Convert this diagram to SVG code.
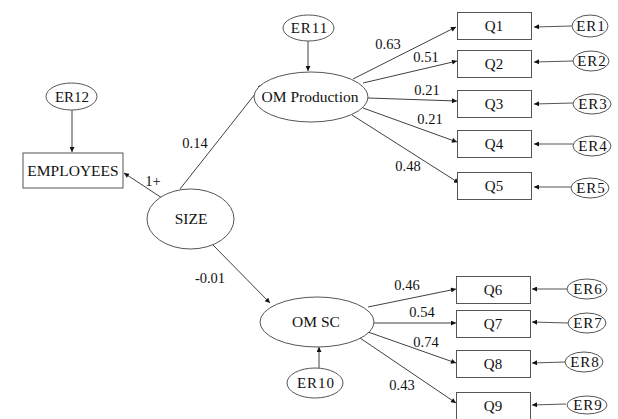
<svg xmlns="http://www.w3.org/2000/svg" width="618" height="419" viewBox="0 0 618 419" font-family="Liberation Serif, DejaVu Serif, Times New Roman, serif" font-size="15">
<style>
text{fill:#111;text-anchor:middle}
.num{font-size:14.5px}
.big{font-size:15.5px}
.er{letter-spacing:1px}
.n{fill:#fff;stroke:#555;stroke-width:1}
.c{stroke:#2a2a2a;stroke-width:0.9;fill:none}
.e{stroke:#555;stroke-width:1.1;fill:none}
</style>
<defs>
<marker id="ah" viewBox="0 0 10 10" refX="10" refY="5" markerWidth="7" markerHeight="5" markerUnits="userSpaceOnUse" orient="auto"><path d="M0,0 L10,5 L0,10 z" fill="#111"/></marker>
</defs>
<rect width="618" height="419" fill="#fff"/>
<g id="connectors">
<line class="c" x1="72" y1="110" x2="72" y2="152" marker-end="url(#ah)"/>
<line class="c" x1="162" y1="198" x2="124" y2="173" stroke-width="1.4" marker-end="url(#ah)"/>
<line class="c" x1="180" y1="189" x2="263" y2="84" marker-end="url(#ah)"/>
<line class="c" x1="213" y1="245" x2="270" y2="303" marker-end="url(#ah)"/>
<line class="c" x1="308" y1="41" x2="308" y2="71" marker-end="url(#ah)"/>
<line class="c" x1="319" y1="368" x2="319" y2="347" marker-end="url(#ah)"/>
<line class="c" x1="353" y1="79" x2="456" y2="27" marker-end="url(#ah)"/>
<line class="c" x1="363" y1="83" x2="457" y2="61" marker-end="url(#ah)"/>
<line class="c" x1="368" y1="98" x2="457" y2="101" marker-end="url(#ah)"/>
<line class="c" x1="363" y1="108" x2="457" y2="142" marker-end="url(#ah)"/>
<line class="c" x1="352" y1="115" x2="459" y2="183" marker-end="url(#ah)"/>
<line class="c" x1="368" y1="307" x2="456" y2="289" marker-end="url(#ah)"/>
<line class="c" x1="374" y1="323" x2="456" y2="323" marker-end="url(#ah)"/>
<line class="c" x1="368" y1="332" x2="456" y2="363" marker-end="url(#ah)"/>
<line class="c" x1="360" y1="338" x2="456" y2="403" marker-end="url(#ah)"/>
<line class="e" x1="572" y1="26" x2="534" y2="27" marker-end="url(#ah)"/>
<line class="e" x1="573" y1="61" x2="534" y2="62" marker-end="url(#ah)"/>
<line class="e" x1="573" y1="103" x2="534" y2="104" marker-end="url(#ah)"/>
<line class="e" x1="573" y1="144" x2="534" y2="144" marker-end="url(#ah)"/>
<line class="e" x1="571" y1="187" x2="534" y2="187" marker-end="url(#ah)"/>
<line class="e" x1="567" y1="289" x2="532" y2="289" marker-end="url(#ah)"/>
<line class="e" x1="568" y1="323" x2="532" y2="322" marker-end="url(#ah)"/>
<line class="e" x1="565" y1="362" x2="532" y2="363" marker-end="url(#ah)"/>
<line class="e" x1="566" y1="404" x2="532" y2="405" marker-end="url(#ah)"/>
</g>
<g id="labels" class="num">
<text class="num" x="153" y="186">1+</text>
<text class="num" x="195" y="148">0.14</text>
<text class="num" x="210" y="283">-0.01</text>
<text class="num" x="388" y="49">0.63</text>
<text class="num" x="426" y="62">0.51</text>
<text class="num" x="427" y="95">0.21</text>
<text class="num" x="430" y="124">0.21</text>
<text class="num" x="408" y="171">0.48</text>
<text class="num" x="407" y="290">0.46</text>
<text class="num" x="422" y="317">0.54</text>
<text class="num" x="426" y="347">0.74</text>
<text class="num" x="402" y="390">0.43</text>
</g>
<g id="ER12"><ellipse class="n" cx="71.5" cy="96.5" rx="25.5" ry="13.5"/><text x="72" y="102">ER12</text></g>
<g id="EMPLOYEES"><rect class="n" x="23" y="153" width="100" height="35"/><text class="big" x="73" y="176">EMPLOYEES</text></g>
<g id="SIZE"><ellipse class="n" cx="190.5" cy="219" rx="43.5" ry="30"/><text class="big" x="191" y="224">SIZE</text></g>
<g id="ER11"><ellipse class="n" cx="308.5" cy="28" rx="25.5" ry="13"/><text class="er" x="309.5" y="33">ER11</text></g>
<g id="OMProduction"><ellipse class="n" cx="311" cy="97" rx="57" ry="25"/><text class="big" x="310" y="102">OM Production</text></g>
<g id="OMSC"><ellipse class="n" cx="317" cy="322" rx="57" ry="25"/><text class="big" x="316" y="327">OM SC</text></g>
<g id="ER10"><ellipse class="n" cx="315" cy="383" rx="28" ry="15"/><text class="er" x="316" y="388">ER10</text></g>
<g id="Q1"><rect class="n" x="457.5" y="12.5" width="74" height="27"/><text x="494" y="31">Q1</text></g>
<g id="Q2"><rect class="n" x="457.5" y="50.5" width="74" height="27"/><text x="494" y="69">Q2</text></g>
<g id="Q3"><rect class="n" x="457.5" y="90.5" width="74" height="27"/><text x="494" y="109">Q3</text></g>
<g id="Q4"><rect class="n" x="457.5" y="130.5" width="74" height="27"/><text x="494" y="149">Q4</text></g>
<g id="Q5"><rect class="n" x="457.5" y="172.5" width="74" height="27"/><text x="494" y="191">Q5</text></g>
<g id="Q6"><rect class="n" x="456.5" y="276.5" width="74" height="27"/><text x="493" y="295">Q6</text></g>
<g id="Q7"><rect class="n" x="456.5" y="310.5" width="74" height="27"/><text x="493" y="329">Q7</text></g>
<g id="Q8"><rect class="n" x="456.5" y="350.5" width="74" height="27"/><text x="493" y="369">Q8</text></g>
<g id="Q9"><rect class="n" x="456.5" y="392.5" width="74" height="30"/><text x="493" y="411">Q9</text></g>
<g id="ER1"><ellipse class="n" cx="590" cy="26" rx="18" ry="11"/><text class="er" x="591" y="31">ER1</text></g>
<g id="ER2"><ellipse class="n" cx="591" cy="61" rx="18" ry="10"/><text class="er" x="592" y="66">ER2</text></g>
<g id="ER3"><ellipse class="n" cx="592" cy="104" rx="19" ry="10"/><text class="er" x="593" y="109">ER3</text></g>
<g id="ER4"><ellipse class="n" cx="592" cy="146" rx="19" ry="10"/><text class="er" x="593" y="151">ER4</text></g>
<g id="ER5"><ellipse class="n" cx="590" cy="188" rx="19" ry="10"/><text class="er" x="591" y="193">ER5</text></g>
<g id="ER6"><ellipse class="n" cx="587" cy="289" rx="20" ry="10"/><text class="er" x="588" y="294">ER6</text></g>
<g id="ER7"><ellipse class="n" cx="587" cy="323" rx="19" ry="10"/><text class="er" x="588" y="328">ER7</text></g>
<g id="ER8"><ellipse class="n" cx="584" cy="362" rx="19" ry="10"/><text class="er" x="585" y="367">ER8</text></g>
<g id="ER9"><ellipse class="n" cx="587" cy="405" rx="20" ry="9"/><text class="er" x="588" y="410">ER9</text></g>
</svg>
